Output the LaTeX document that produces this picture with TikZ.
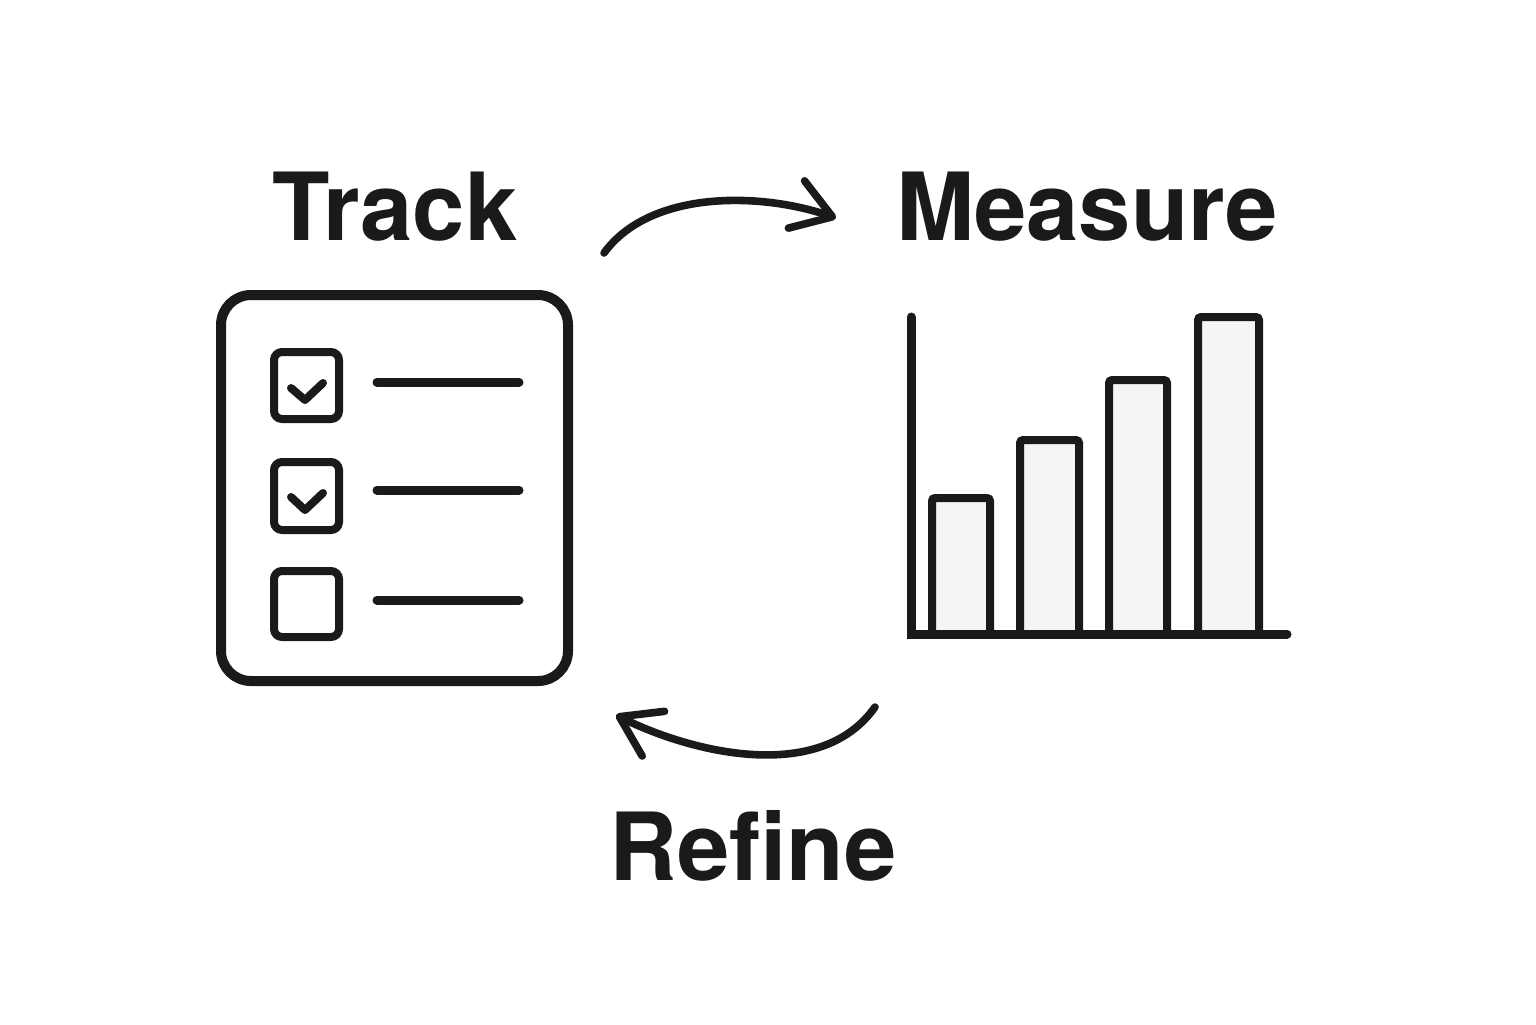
\documentclass[tikz,border=0pt]{standalone}
\usepackage{fontspec}
\setmainfont{TeX Gyre Heros}
\usetikzlibrary{arrows.meta}
\definecolor{ink}{HTML}{1A1A1A}
\definecolor{barfill}{HTML}{F5F5F5}
\begin{document}
\begin{tikzpicture}[x=0.5pt,y=-0.5pt,
  title/.style={anchor=base,text=ink,font=\fontsize{47}{50}\selectfont\bfseries,inner sep=0pt},
  panel/.style={draw=ink,line width=5pt,rounded corners=15pt},
  cbox/.style={draw=ink,line width=4pt,rounded corners=4pt},
  tick/.style={draw=ink,line width=4pt,line cap=round,line join=round},
  itemline/.style={draw=ink,line width=4.5pt,line cap=round},
  axis/.style={draw=ink,line width=4.5pt,line cap=round},
  bar/.style={draw=ink,fill=barfill,line width=4pt,rounded corners=1.5pt},
  flow/.style={draw=ink,line width=3.8pt,line cap=round,
    -{Straight Barb[length=19pt,width=25pt,line cap=round,line join=round]}}
]
\useasboundingbox[fill=white] (0,0) rectangle (1536,1024);

% titles
\node[title] (track) at (395,240) {Track};
\node[title] (measure) at (1087,240) {Measure};
\node[title] (refine) at (753,880) {Refine};

% checklist panel
\draw[panel] (221,295) rectangle (568,681);
\draw[cbox] (274,352) rectangle (339,419);
\draw[cbox] (274,462) rectangle (339,530);
\draw[cbox] (274,571) rectangle (339,637);
\draw[tick] (291,388) -- (305,400) -- (323,383);
\draw[tick] (291,497) -- (305,510) -- (323,493);
\draw[itemline] (377,382) -- (519,382);
\draw[itemline] (377,490) -- (519,490);
\draw[itemline] (377,600) -- (519,600);

% bar chart
\draw[bar] (932,634) rectangle (990,498);
\draw[bar] (1020,634) rectangle (1079,440);
\draw[bar] (1109,634) rectangle (1167,380);
\draw[bar] (1198,634) rectangle (1259,317);
\draw[axis] (911,317) -- (911,634) -- (1287,634);

% cycle arrows
\coordinate (a1s) at (604,253);
\coordinate (a1e) at (836,218);
\coordinate (a2s) at (875,707);
\coordinate (a2e) at (616,715);
\draw[flow] (a1s) .. controls (650,190) and (760,192) .. (a1e);
\draw[flow] (a2s) .. controls (820,785) and (690,752) .. (a2e);
\end{tikzpicture}
\end{document}
